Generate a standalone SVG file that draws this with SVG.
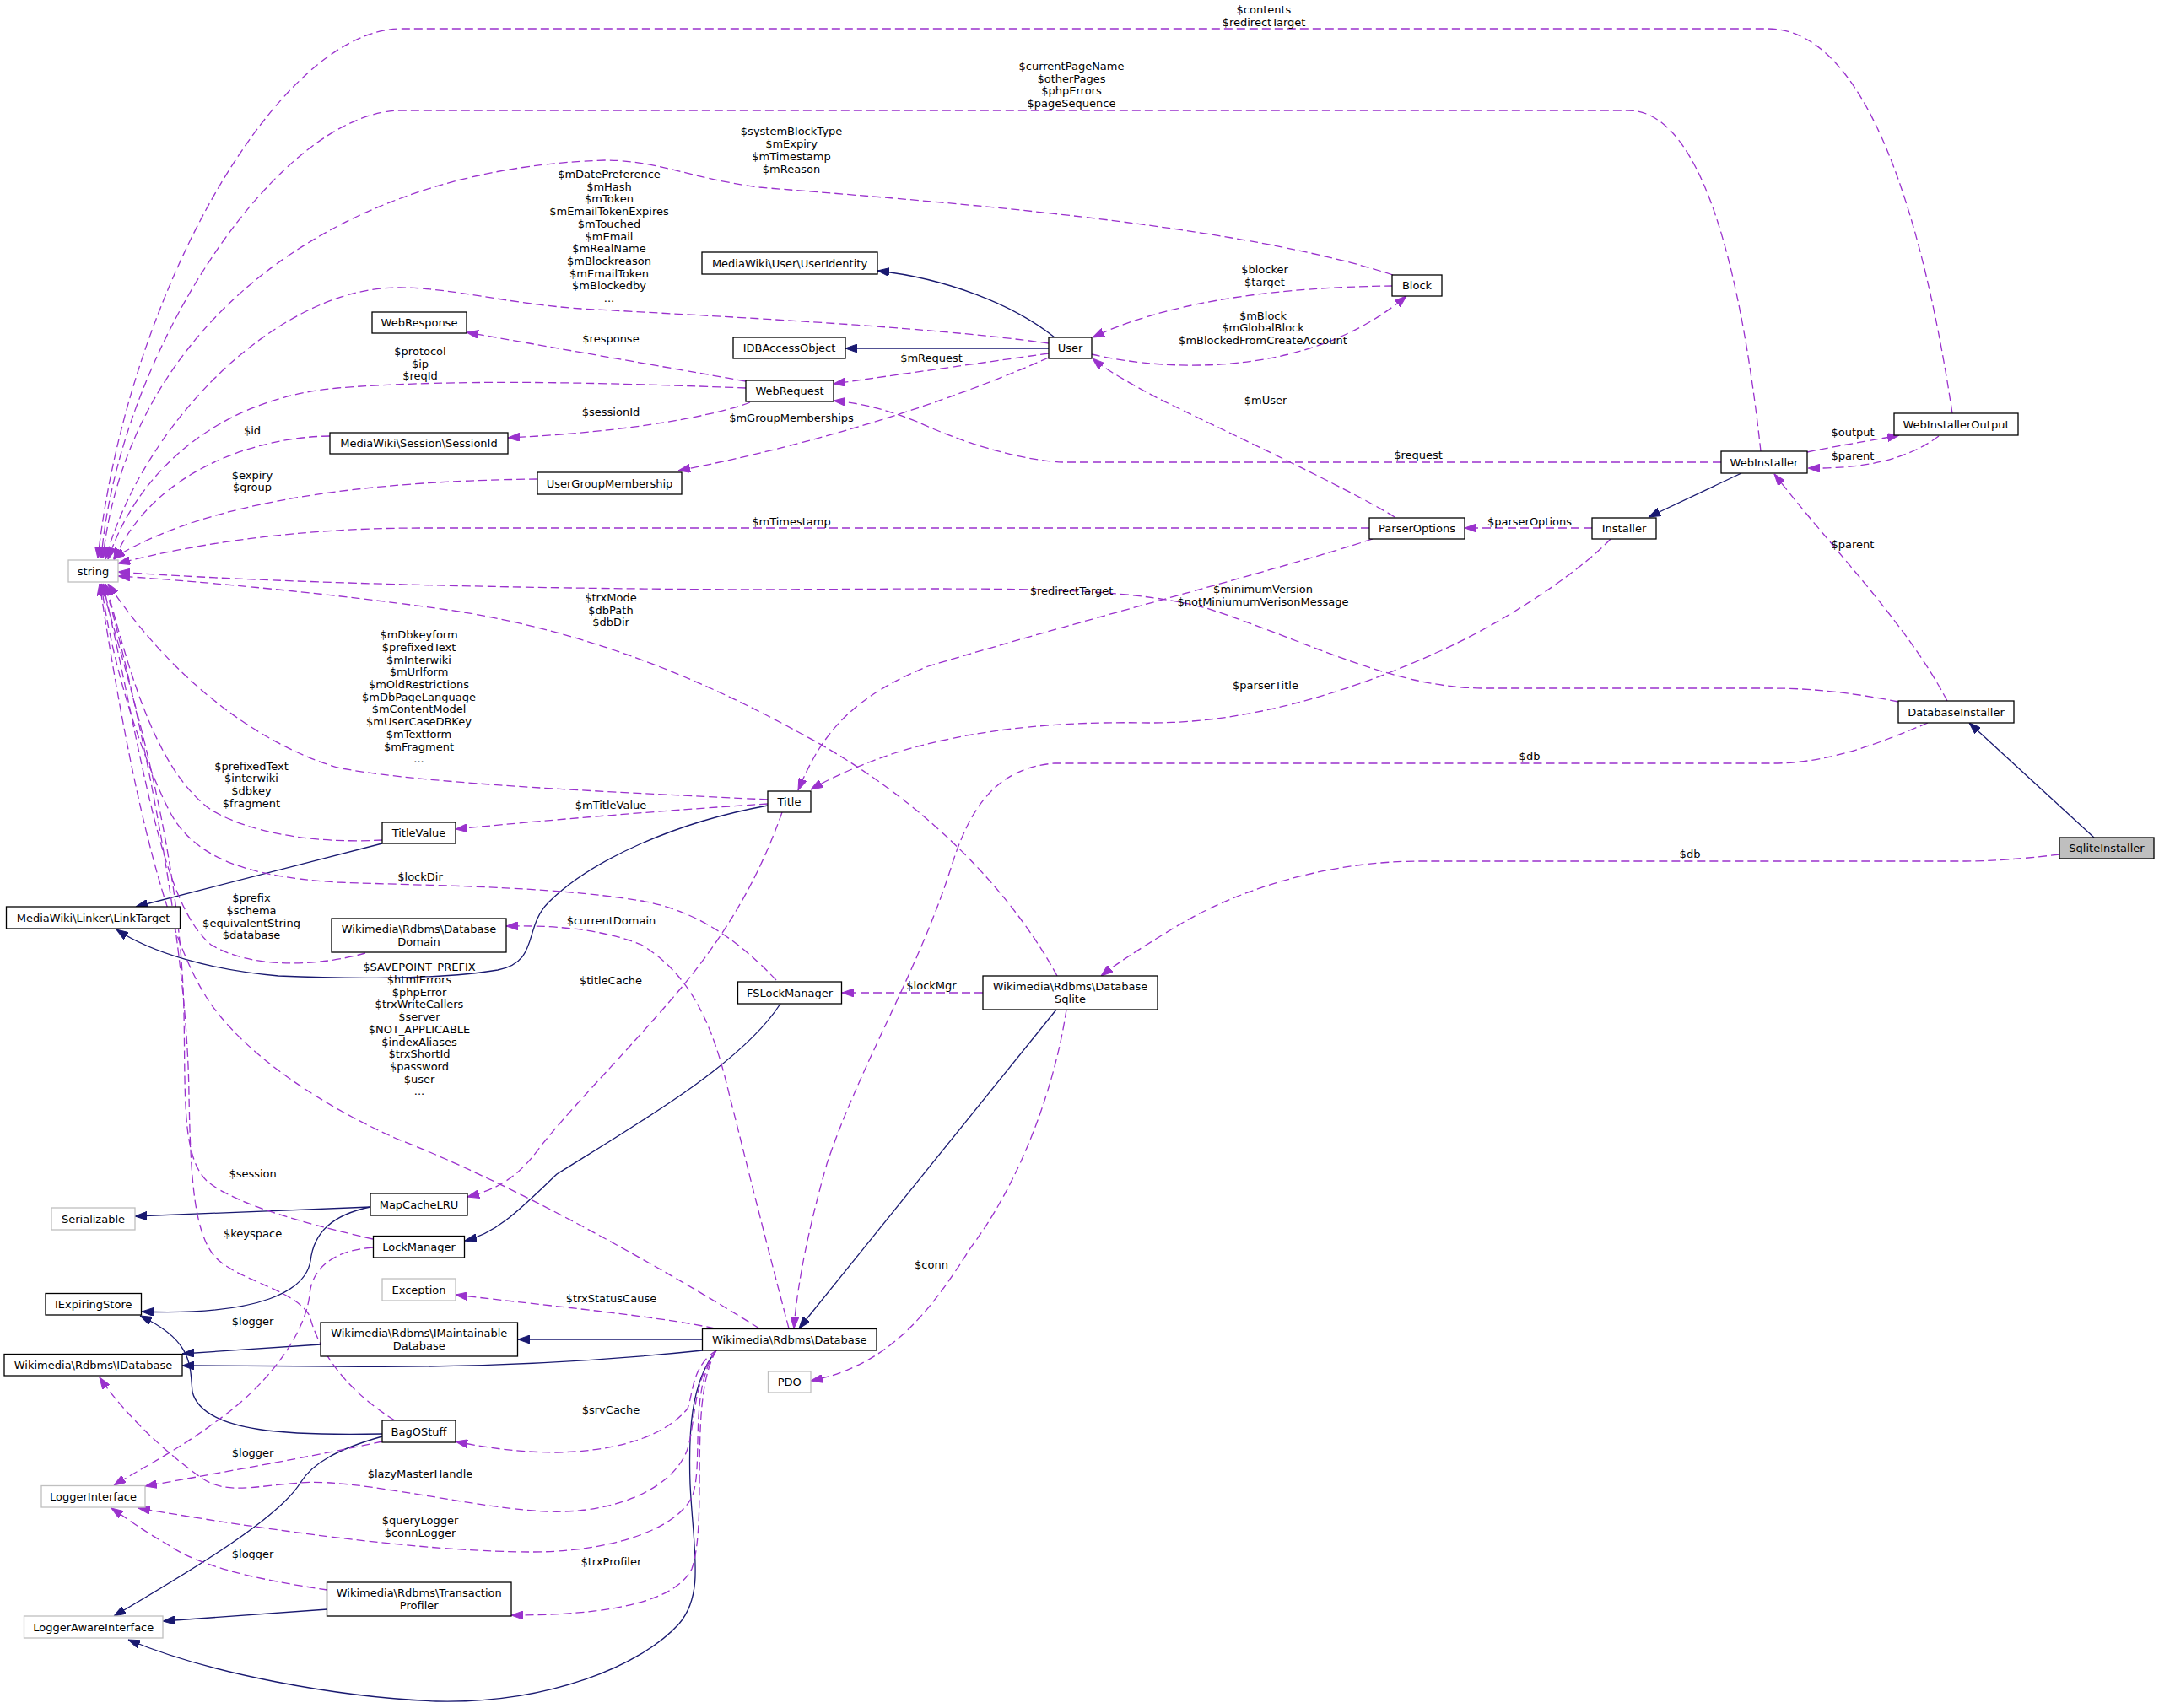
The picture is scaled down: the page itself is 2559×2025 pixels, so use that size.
<svg xmlns="http://www.w3.org/2000/svg" width="2559" height="2025" viewBox="0 0 2559 2025">
<style>
text{font-family:"DejaVu Sans","Liberation Sans",sans-serif;font-size:13px;text-anchor:middle;fill:#000}
.n{fill:#fff;stroke:#000;stroke-width:1.3}
.g{fill:#fff;stroke:#bfbfbf;stroke-width:1.3}
.s{fill:#bfbfbf;stroke:#000;stroke-width:1.3}
.d{fill:none;stroke:#9a32cd;stroke-width:1.3;stroke-dasharray:10,5;marker-end:url(#ap)}
.i{fill:none;stroke:#191970;stroke-width:1.3;marker-end:url(#an)}
</style>
<defs>
<marker id="ap" viewBox="0 0 14 10" refX="14" refY="5" markerWidth="14" markerHeight="10" markerUnits="userSpaceOnUse" orient="auto"><path d="M0,0 L14,5 L0,10 z" fill="#9a32cd" stroke="#9a32cd" stroke-width="1"/></marker>
<marker id="an" viewBox="0 0 14 10" refX="14" refY="5" markerWidth="14" markerHeight="10" markerUnits="userSpaceOnUse" orient="auto"><path d="M0,0 L14,5 L0,10 z" fill="#191970" stroke="#191970" stroke-width="1"/></marker>
</defs>
<rect width="2559" height="2025" fill="#fff"/>
<g id="edges">
<!-- inheritance -->
<path class="i" d="M1250,400 C1200,360 1120,330 1040,321"/>
<path class="i" d="M1243,413 L1002,413"/>
<path class="i" d="M2064,561 L1954,613"/>
<path class="i" d="M2482,993 L2334,857"/>
<path class="i" d="M910,955 C800,975 700,1020 650,1070 C620,1100 640,1140 590,1150 C520,1162 400,1160 330,1157 C250,1150 180,1130 138,1102"/>
<path class="i" d="M453,1000 L161,1075"/>
<path class="i" d="M925,1190 C880,1260 760,1330 660,1392 C620,1430 590,1462 551,1471"/>
<path class="i" d="M439,1431 L160,1442"/>
<path class="i" d="M439,1431 C395,1440 372,1460 368,1495 C362,1530 310,1560 168,1555"/>
<path class="i" d="M453,1700 C350,1702 240,1700 228,1650 C225,1620 230,1590 166,1560"/>
<path class="i" d="M453,1703 C400,1718 370,1735 356,1758 C330,1800 230,1860 135,1916"/>
<path class="i" d="M380,1594 L216,1605"/>
<path class="i" d="M833,1588 L614,1588"/>
<path class="i" d="M833,1601 C700,1615 550,1622 400,1620 L216,1619"/>
<path class="i" d="M849,1601 C818,1640 816,1700 818,1760 C822,1840 835,1890 805,1925 C760,1975 650,2020 517,2017 C400,2012 250,1985 152,1944"/>
<path class="i" d="M388,1908 L193,1922"/>
<path class="i" d="M1252,1197 L947,1575"/>
<!-- usage -->
<path class="d" d="M2314,490 C2290,330 2230,34 2095,34 L476,34 C330,34 150,350 116,662"/>
<path class="d" d="M2087,535 C2070,380 2030,131 1930,131 L476,131 C330,131 140,420 120,662"/>
<path class="d" d="M1651,326 C1450,260 1050,235 900,222 C820,212 780,190 717,190 C380,200 150,400 122,662"/>
<path class="d" d="M1243,407 C1100,387 850,375 689,366 C600,360 530,340 470,341 C330,342 170,500 125,663"/>
<path class="d" d="M884,460 C750,455 550,448 400,460 C280,470 170,540 128,663"/>
<path class="d" d="M391,517 C300,518 180,560 135,664"/>
<path class="d" d="M637,568 C450,570 250,590 134,662"/>
<path class="d" d="M1623,626 L500,626 C350,626 230,645 140,668"/>
<path class="d" d="M2250,832 C2200,822 2150,816 2100,816 L1760,816 C1650,816 1550,760 1430,721 C1350,700 1250,698 1100,698 L900,699 C600,698 300,690 140,678"/>
<path class="d" d="M1253,1157 C1200,1060 1100,950 950,870 C850,815 700,745 516,721 C400,705 250,690 140,683"/>
<path class="d" d="M910,948 C750,940 500,930 400,910 C300,880 200,800 128,692"/>
<path class="d" d="M453,996 C380,1000 300,990 250,960 C180,910 150,780 125,692"/>
<path class="d" d="M920,1162 C880,1120 830,1080 760,1068 C650,1050 500,1050 400,1046 C300,1040 230,1020 200,960 C160,880 130,770 120,692"/>
<path class="d" d="M433,1130 C380,1145 300,1150 250,1120 C190,1070 170,900 122,692"/>
<path class="d" d="M900,1575 C780,1500 600,1400 470,1350 C380,1310 290,1250 247,1186 C190,1100 150,900 118,692"/>
<path class="d" d="M442,1469 C380,1455 280,1430 245,1400 C215,1370 220,1300 218,1200 C214,1000 150,800 120,692"/>
<path class="d" d="M468,1684 C420,1655 380,1610 367,1560 C350,1530 290,1520 260,1495 C230,1470 226,1400 224,1300 C222,1100 160,820 124,692"/>
<path class="d" d="M442,1479 C400,1482 370,1500 367,1535 C362,1580 320,1640 258,1684 C210,1720 160,1745 135,1761"/>
<path class="d" d="M453,1709 C380,1725 250,1748 172,1762"/>
<path class="d" d="M388,1885 C320,1875 240,1860 200,1832 C170,1815 150,1800 132,1788"/>
<path class="d" d="M847,1575 C780,1560 620,1545 540,1535"/>
<path class="d" d="M849,1601 C820,1620 822,1650 815,1670 C790,1700 740,1720 660,1722 C610,1722 570,1715 540,1709"/>
<path class="d" d="M849,1601 C818,1640 825,1700 812,1725 C790,1770 720,1795 648,1792 C560,1788 420,1752 356,1758 C300,1762 270,1772 240,1753 C200,1725 150,1680 118,1633"/>
<path class="d" d="M849,1601 C815,1650 835,1740 820,1775 C800,1815 720,1840 631,1840 C520,1840 350,1820 164,1788"/>
<path class="d" d="M849,1601 C815,1660 840,1800 820,1860 C800,1900 720,1915 606,1915"/>
<path class="d" d="M1264,1197 C1250,1290 1210,1400 1150,1480 C1100,1560 1050,1620 961,1637"/>
<path class="d" d="M1165,1177 L998,1177"/>
<path class="d" d="M935,1575 C910,1480 885,1380 860,1280 C840,1200 810,1150 760,1120 C710,1100 650,1097 600,1098"/>
<path class="d" d="M2441,1013 C2400,1018 2360,1021 2330,1021 L1680,1021 C1560,1022 1460,1060 1400,1095 C1350,1125 1320,1145 1305,1157"/>
<path class="d" d="M2285,857 C2230,880 2170,905 2100,905 L1250,905 C1180,910 1150,960 1130,1020 C1090,1150 1020,1260 980,1380 C960,1450 945,1520 941,1575"/>
<path class="d" d="M927,963 C900,1040 860,1110 800,1180 C740,1250 680,1310 640,1360 C615,1395 590,1410 554,1419"/>
<path class="d" d="M910,953 C800,960 650,972 540,983"/>
<path class="d" d="M1909,639 C1870,680 1780,740 1700,775 C1600,820 1480,858 1360,857 C1250,855 1150,865 1060,893 C1010,910 980,925 961,936"/>
<path class="d" d="M1627,639 C1500,680 1300,730 1100,790 C1000,830 970,880 946,937"/>
<path class="d" d="M1653,613 C1600,580 1450,510 1374,473 C1340,455 1310,438 1295,425"/>
<path class="d" d="M1887,626 L1736,626"/>
<path class="d" d="M2040,548 L1260,548 C1200,545 1130,520 1087,500 C1050,485 1020,478 988,475"/>
<path class="d" d="M2142,536 C2180,528 2220,522 2251,516"/>
<path class="d" d="M2298,517 C2260,545 2210,556 2143,555"/>
<path class="d" d="M2308,831 C2260,740 2180,660 2103,562"/>
<path class="d" d="M1651,339 C1550,340 1400,350 1295,400"/>
<path class="d" d="M1294,420 C1380,440 1550,450 1667,351"/>
<path class="d" d="M1243,419 L988,455"/>
<path class="d" d="M884,452 L553,394"/>
<path class="d" d="M889,477 C850,492 750,512 602,519"/>
<path class="d" d="M1243,424 C1150,465 1000,520 804,558"/>
</g>
<g id="labels">
<text x="1498" y="16">$contents</text>
<text x="1498" y="31">$redirectTarget</text>
<text x="1270" y="83">$currentPageName</text>
<text x="1270" y="97.7">$otherPages</text>
<text x="1270" y="112.4">$phpErrors</text>
<text x="1270" y="127.1">$pageSequence</text>
<text x="938" y="160.4">$systemBlockType</text>
<text x="938" y="175.1">$mExpiry</text>
<text x="938" y="189.8">$mTimestamp</text>
<text x="938" y="204.5">$mReason</text>
<text x="722" y="211">$mDatePreference</text>
<text x="722" y="225.7">$mHash</text>
<text x="722" y="240.4">$mToken</text>
<text x="722" y="255.1">$mEmailTokenExpires</text>
<text x="722" y="269.8">$mTouched</text>
<text x="722" y="284.5">$mEmail</text>
<text x="722" y="299.2">$mRealName</text>
<text x="722" y="313.9">$mBlockreason</text>
<text x="722" y="328.6">$mEmailToken</text>
<text x="722" y="343.3">$mBlockedby</text>
<text x="722" y="358">...</text>
<text x="1499" y="324.2">$blocker</text>
<text x="1499" y="338.9">$target</text>
<text x="1497" y="378.6">$mBlock</text>
<text x="1497" y="393.3">$mGlobalBlock</text>
<text x="1497" y="408">$mBlockedFromCreateAccount</text>
<text x="724" y="405.5">$response</text>
<text x="498" y="421">$protocol</text>
<text x="498" y="435.7">$ip</text>
<text x="498" y="450.4">$reqId</text>
<text x="1104" y="429">$mRequest</text>
<text x="724" y="493">$sessionId</text>
<text x="938" y="500">$mGroupMemberships</text>
<text x="299" y="514.5">$id</text>
<text x="1500" y="479">$mUser</text>
<text x="299" y="567.5">$expiry</text>
<text x="299" y="582.2">$group</text>
<text x="2196" y="517">$output</text>
<text x="2196" y="545">$parent</text>
<text x="1681" y="544">$request</text>
<text x="2196" y="649.5">$parent</text>
<text x="1813" y="623">$parserOptions</text>
<text x="938" y="623">$mTimestamp</text>
<text x="1270" y="705">$redirectTarget</text>
<text x="1497" y="703">$minimumVersion</text>
<text x="1497" y="717.7">$notMiniumumVerisonMessage</text>
<text x="724" y="713">$trxMode</text>
<text x="724" y="727.7">$dbPath</text>
<text x="724" y="742.4">$dbDir</text>
<text x="496.5" y="757.2">$mDbkeyform</text>
<text x="496.5" y="771.9">$prefixedText</text>
<text x="496.5" y="786.6">$mInterwiki</text>
<text x="496.5" y="801.3">$mUrlform</text>
<text x="496.5" y="816">$mOldRestrictions</text>
<text x="496.5" y="830.7">$mDbPageLanguage</text>
<text x="496.5" y="845.4">$mContentModel</text>
<text x="496.5" y="860.1">$mUserCaseDBKey</text>
<text x="496.5" y="874.8">$mTextform</text>
<text x="496.5" y="889.5">$mFragment</text>
<text x="496.5" y="904.2">...</text>
<text x="298" y="912.5">$prefixedText</text>
<text x="298" y="927.2">$interwiki</text>
<text x="298" y="941.9">$dbkey</text>
<text x="298" y="956.6">$fragment</text>
<text x="724" y="959">$mTitleValue</text>
<text x="1500" y="817">$parserTitle</text>
<text x="1813" y="901">$db</text>
<text x="2003" y="1016.5">$db</text>
<text x="498" y="1043.5">$lockDir</text>
<text x="724.5" y="1096">$currentDomain</text>
<text x="298" y="1069.2">$prefix</text>
<text x="298" y="1083.9">$schema</text>
<text x="298" y="1098.6">$equivalentString</text>
<text x="298" y="1113.3">$database</text>
<text x="497" y="1151.3">$SAVEPOINT_PREFIX</text>
<text x="497" y="1166">$htmlErrors</text>
<text x="497" y="1180.7">$phpError</text>
<text x="497" y="1195.4">$trxWriteCallers</text>
<text x="497" y="1210.1">$server</text>
<text x="497" y="1224.8">$NOT_APPLICABLE</text>
<text x="497" y="1239.5">$indexAliases</text>
<text x="497" y="1254.2">$trxShortId</text>
<text x="497" y="1268.9">$password</text>
<text x="497" y="1283.6">$user</text>
<text x="497" y="1298.3">...</text>
<text x="724" y="1167">$titleCache</text>
<text x="1104" y="1173.2">$lockMgr</text>
<text x="299.6" y="1396">$session</text>
<text x="299.6" y="1467.3">$keyspace</text>
<text x="299.6" y="1571.3">$logger</text>
<text x="724.4" y="1544">$trxStatusCause</text>
<text x="724" y="1675.5">$srvCache</text>
<text x="299.6" y="1726.5">$logger</text>
<text x="498" y="1752.1">$lazyMasterHandle</text>
<text x="498" y="1807.1">$queryLogger</text>
<text x="498" y="1821.8">$connLogger</text>
<text x="299.6" y="1846.9">$logger</text>
<text x="724.4" y="1855.5">$trxProfiler</text>
<text x="1104" y="1504.3">$conn</text>
</g>
<g id="SqliteInstaller"><rect class="s" x="2441" y="993" width="112" height="25"/><text x="2497" y="1010">SqliteInstaller</text></g>
<g id="DatabaseInstaller"><rect class="n" x="2250" y="831" width="137" height="26"/><text x="2318.5" y="848.5">DatabaseInstaller</text></g>
<g id="WebInstaller"><rect class="n" x="2040" y="535" width="102" height="26"/><text x="2091" y="552.5">WebInstaller</text></g>
<g id="WebInstallerOutput"><rect class="n" x="2245" y="490" width="147" height="26"/><text x="2318.5" y="507.5">WebInstallerOutput</text></g>
<g id="Installer"><rect class="n" x="1887" y="614" width="76" height="25"/><text x="1925" y="631">Installer</text></g>
<g id="ParserOptions"><rect class="n" x="1623" y="614" width="113" height="25"/><text x="1679.5" y="631">ParserOptions</text></g>
<g id="Block"><rect class="n" x="1650" y="326" width="59" height="25"/><text x="1679.5" y="343">Block</text></g>
<g id="User"><rect class="n" x="1243" y="400" width="51" height="25"/><text x="1268.5" y="417">User</text></g>
<g id="UserIdentity"><rect class="n" x="832" y="299" width="208" height="26"/><text x="936" y="316.5">MediaWiki\User\UserIdentity</text></g>
<g id="IDBAccessObject"><rect class="n" x="869" y="400" width="133" height="25"/><text x="935.5" y="417">IDBAccessObject</text></g>
<g id="WebRequest"><rect class="n" x="884" y="451" width="104" height="25"/><text x="936" y="468">WebRequest</text></g>
<g id="WebResponse"><rect class="n" x="441" y="370" width="112" height="25"/><text x="497" y="387">WebResponse</text></g>
<g id="SessionId"><rect class="n" x="391" y="513" width="211" height="25"/><text x="496.5" y="530">MediaWiki\Session\SessionId</text></g>
<g id="UserGroupMembership"><rect class="n" x="637" y="560" width="171" height="26"/><text x="722.5" y="577.5">UserGroupMembership</text></g>
<g id="string"><rect class="g" x="81" y="664" width="59" height="26"/><text x="110.5" y="681.5">string</text></g>
<g id="Title"><rect class="n" x="910" y="938" width="51" height="25"/><text x="935.5" y="955">Title</text></g>
<g id="TitleValue"><rect class="n" x="453" y="975" width="87" height="25"/><text x="496.5" y="992">TitleValue</text></g>
<g id="LinkTarget"><rect class="n" x="7.5" y="1075" width="206" height="26"/><text x="110.5" y="1092.5">MediaWiki\Linker\LinkTarget</text></g>
<g id="DatabaseDomain"><rect class="n" x="393" y="1089" width="207" height="40"/><text x="496.5" y="1106.2">Wikimedia\Rdbms\Database</text><text x="496.5" y="1120.9">Domain</text></g>
<g id="FSLockManager"><rect class="n" x="874.5" y="1164" width="123" height="26"/><text x="936" y="1181.5">FSLockManager</text></g>
<g id="DatabaseSqlite"><rect class="n" x="1165" y="1157" width="207" height="40"/><text x="1268.5" y="1174.2">Wikimedia\Rdbms\Database</text><text x="1268.5" y="1188.9">Sqlite</text></g>
<g id="MapCacheLRU"><rect class="n" x="439" y="1415" width="115" height="26"/><text x="496.5" y="1432.5">MapCacheLRU</text></g>
<g id="Serializable"><rect class="g" x="61" y="1432" width="99" height="26"/><text x="110.5" y="1449.5">Serializable</text></g>
<g id="LockManager"><rect class="n" x="442.5" y="1465.5" width="108" height="25.5"/><text x="496.5" y="1482.5">LockManager</text></g>
<g id="Exception"><rect class="g" x="453" y="1516" width="87" height="26"/><text x="496.5" y="1533.5">Exception</text></g>
<g id="IExpiringStore"><rect class="n" x="54" y="1533.5" width="113.5" height="25.5"/><text x="110.75" y="1550.5">IExpiringStore</text></g>
<g id="IMaintainableDatabase"><rect class="n" x="380" y="1568" width="233.5" height="40"/><text x="496.75" y="1585.2">Wikimedia\Rdbms\IMaintainable</text><text x="496.75" y="1599.9">Database</text></g>
<g id="IDatabase"><rect class="n" x="5" y="1605.5" width="211" height="25.5"/><text x="110.5" y="1622.5">Wikimedia\Rdbms\IDatabase</text></g>
<g id="Database"><rect class="n" x="832.5" y="1575.5" width="206.5" height="25.5"/><text x="935.75" y="1592.5">Wikimedia\Rdbms\Database</text></g>
<g id="PDO"><rect class="g" x="910.5" y="1626" width="50.5" height="25"/><text x="935.75" y="1643">PDO</text></g>
<g id="BagOStuff"><rect class="n" x="453" y="1684" width="87" height="26"/><text x="496.5" y="1701.5">BagOStuff</text></g>
<g id="LoggerInterface"><rect class="g" x="49" y="1761.5" width="123" height="25.5"/><text x="110.5" y="1778.5">LoggerInterface</text></g>
<g id="TransactionProfiler"><rect class="n" x="387.5" y="1876" width="218.5" height="40"/><text x="496.75" y="1893.2">Wikimedia\Rdbms\Transaction</text><text x="496.75" y="1907.9">Profiler</text></g>
<g id="LoggerAwareInterface"><rect class="g" x="28.5" y="1916" width="164.5" height="26"/><text x="110.75" y="1933.5">LoggerAwareInterface</text></g>
</svg>
